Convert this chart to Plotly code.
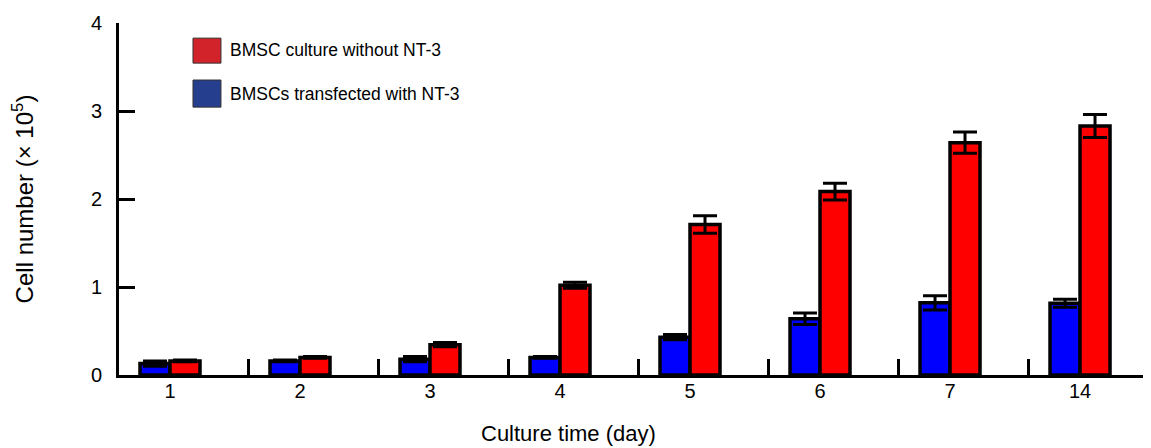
import plotly.graph_objects as go

days = ["1", "2", "3", "4", "5", "6", "7", "14"]
blue_vals = [0.13, 0.16, 0.18, 0.20, 0.43, 0.64, 0.82, 0.815]
blue_err = [0.03, 0.01, 0.03, 0.01, 0.03, 0.065, 0.08, 0.045]
red_vals = [0.16, 0.20, 0.345, 1.02, 1.71, 2.085, 2.64, 2.83]
red_err = [0.01, 0.01, 0.025, 0.035, 0.10, 0.095, 0.12, 0.13]
yticks = [0, 1, 2, 3, 4]
boundary_ticks = [i + 0.605 for i in range(len(days) - 1)]

legend_red = "BMSC culture without NT-3"
legend_blue = "BMSCs transfected with NT-3"
x_title = "Culture time (day)"
y_title = "Cell number (× 10<sup>5</sup>)"

FONT = "Arial, Liberation Sans, sans-serif"
xpos = list(range(len(days)))

fig = go.Figure()
fig.add_trace(go.Bar(
    x=xpos, y=blue_vals, name=legend_blue, showlegend=False,
    marker=dict(color="#0000ff", line=dict(color="black", width=3.5)),
    error_y=dict(type="data", array=blue_err, visible=True, color="black", thickness=3, width=12),
))
fig.add_trace(go.Bar(
    x=xpos, y=red_vals, name=legend_red, showlegend=False,
    marker=dict(color="#ff0000", line=dict(color="black", width=3.5)),
    error_y=dict(type="data", array=red_err, visible=True, color="black", thickness=3, width=12),
))
# invisible helper trace for the boundary tick axis
fig.add_trace(go.Scatter(x=boundary_ticks, y=[0] * len(boundary_ticks), xaxis="x2", mode="markers",
                         marker=dict(opacity=0), showlegend=False, hoverinfo="skip"))

# page body has an 8px margin, so the figure is made 8px smaller and margins shifted
W, H = 1143, 440
ML, MT, MB = 111, 15, 73
xr = [-0.3923, 7.546]
fig.update_layout(
    width=W, height=H,
    margin=dict(l=ML, r=0, t=MT, b=MB),
    paper_bgcolor="white", plot_bgcolor="white",
    barmode="group", bargap=0.5385, bargroupgap=0,
    font=dict(family=FONT, size=20, color="black"),
    xaxis=dict(
        range=xr, tickmode="array", tickvals=xpos, ticktext=days,
        ticks="", showgrid=False, zeroline=False,
        showline=True, linecolor="black", linewidth=3,
        tickfont=dict(size=20), ticklabelstandoff=-4,
    ),
    xaxis2=dict(
        range=xr, overlaying="x", anchor="y", side="bottom",
        tickmode="array", tickvals=boundary_ticks, showticklabels=False,
        ticks="inside", ticklen=16, tickwidth=3, tickcolor="black",
        showgrid=False, zeroline=False, showline=False,
    ),
    yaxis=dict(
        range=[0, 4], tickmode="array", tickvals=yticks,
        ticks="inside", ticklen=16, tickwidth=3, tickcolor="black",
        showgrid=False, zeroline=False,
        showline=True, linecolor="black", linewidth=3,
        tickfont=dict(size=20), ticklabelstandoff=10,
        title=dict(text=y_title, font=dict(size=24), standoff=51),
    ),
)

# x-axis title as annotation (positioned under the category range as in the reference)
fig.add_annotation(xref="paper", yref="paper", x=(568 - 8 - ML) / 1032, y=(375 - 433) / 352,
                   xanchor="center", yanchor="middle", text=x_title, showarrow=False,
                   font=dict(size=22, color="black", family=FONT))

# legend (custom, boxed swatches)
fig.add_shape(type="rect", xref="paper", yref="paper", x0=0.0717, x1=0.0988, y0=0.886, y1=0.957,
              fillcolor="#d2232a", line=dict(color="#333333", width=1))
fig.add_shape(type="rect", xref="paper", yref="paper", x0=0.0717, x1=0.0988, y0=0.761, y1=0.838,
              fillcolor="#253f8e", line=dict(color="#333333", width=1))
fig.add_annotation(xref="paper", yref="paper", x=0.1056, y=0.923, xanchor="left", yanchor="middle",
                   text=legend_red, showarrow=False, font=dict(size=17.5, color="black", family=FONT))
fig.add_annotation(xref="paper", yref="paper", x=0.1056, y=0.798, xanchor="left", yanchor="middle",
                   text=legend_blue, showarrow=False, font=dict(size=17.5, color="black", family=FONT))

fig.write_html("out.html")
